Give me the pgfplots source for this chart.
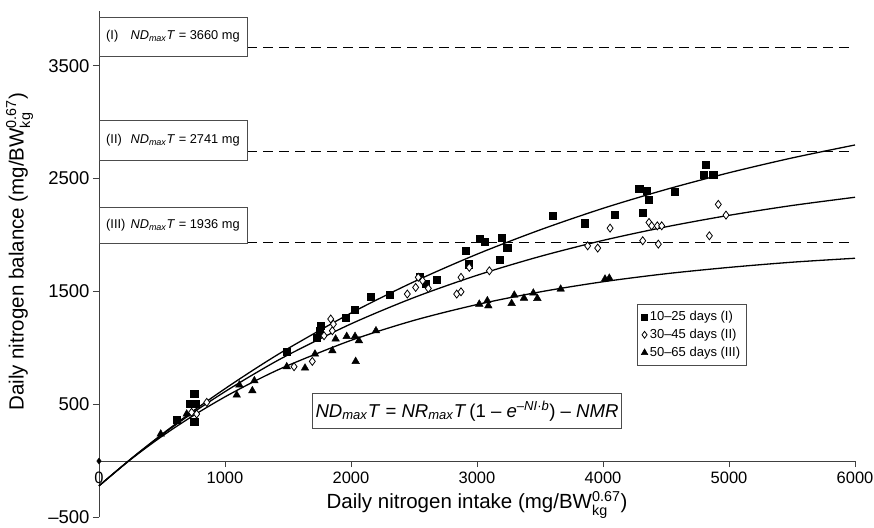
\documentclass[border=0pt]{standalone}
\usepackage{amsmath}
\usepackage{fontspec}
\setmainfont{Liberation Sans}
\usepackage{pgfplots}
\pgfplotsset{compat=1.18}

\newcommand{\BWkg}{BW$^{\text{0.67}}_{\text{kg}}$}
\newcommand{\NDT}{\textit{ND}\textsubscript{\textit{max}}\textit{T}}
\newcommand{\legfont}{\fontsize{13}{14}\selectfont}

% balance data, one table per age group
\pgfplotstableread{
x y
617 366
717 504
770 504
756 599
756 348
1490 971
1727 1094
1749 1153
1759 1198
1958 1271
2032 1339
2159 1457
2304 1472
2548 1634
2595 1572
2680 1605
2913 1861
2931 1743
3024 1971
3058 1944
3196 1980
3240 1885
3183 1779
3598 2171
3857 2106
4090 2184
4288 2413
4347 2393
4365 2313
4315 2200
4566 2387
4815 2622
4796 2534
4875 2534
}\groupI
\pgfplotstableread{
x y
735 431
775 416
855 519
1548 835
1693 882
1786 1109
1839 1257
1852 1153
1860 1212
2447 1478
2513 1537
2534 1626
2568 1596
2614 1528
2839 1478
2873 1498
2873 1626
2939 1714
3098 1684
3878 1905
3958 1885
4056 2062
4365 2112
4386 2082
4431 2082
4466 2082
4315 1950
4439 1920
4844 1994
4915 2272
4976 2177
}\groupII
\pgfplotstableread{
x y
490 239
696 416
1093 584
1114 673
1217 622
1233 711
1490 835
1635 823
1714 947
1852 976
1878 1080
1966 1103
2032 1103
2063 1065
2037 882
2198 1153
3018 1389
3082 1419
3090 1374
3275 1395
3296 1469
3373 1442
3447 1487
3479 1440
3664 1522
4016 1611
4050 1619
}\groupIII

\begin{document}
\begin{tikzpicture}
\begin{axis}[
  scale only axis, width=756pt, height=506pt,
  xmin=0, xmax=6000, ymin=-500, ymax=3980,
  axis lines=middle,
  axis line style={-, line width=0.9pt, black!75},
  hide obscured x ticks=false, hide obscured y ticks=false,
  xtick={0,1000,2000,3000,4000,5000,6000},
  xticklabels={0,1000,2000,3000,4000,5000,6000},
  ytick={-500,500,1500,2500,3500},
  yticklabels={–500,500,1500,2500,3500},
  minor tick num=0,
  tick align=outside, major tick length=6pt,
  tick style={line width=0.9pt, black!75},
  x tick label style={font=\fontsize{16.5}{16.5}\selectfont, yshift=-1pt},
  y tick label style={font=\fontsize{18.5}{18.5}\selectfont, inner ysep=0pt},
  xlabel={Daily nitrogen intake (mg/\BWkg)},
  ylabel={Daily nitrogen balance (mg/\BWkg)},
  xlabel style={at={(axis description cs:0.5,0.025)}, anchor=center,
    font=\fontsize{20.5}{20.5}\selectfont},
  ylabel style={at={(axis description cs:-0.105,0.525)}, anchor=center,
    rotate=90, font=\fontsize{20.5}{20.5}\selectfont},
  clip=false,
  legend style={at={(axis cs:4270,1389)}, anchor=north west,
    draw=black!70, line width=0.6pt, fill=white,
    row sep=3pt, inner xsep=4pt, inner ysep=5pt, cells={anchor=west}},
  legend cell align=left,
  legend image post style={every mark/.append style={scale=0.85}},
]
\coordinate (o) at (axis cs:0,0);

% fitted exponential curves
\addplot[black, line width=1.3pt, smooth, forget plot] coordinates {
(0,-220)(250,16)(500,237)(750,445)(1000,640)(1250,824)(1500,996)
(2000,1310)(2500,1587)(3000,1831)(3500,2046)(4000,2237)(4500,2404)
(5000,2552)(5500,2683)(6000,2798)};
\addplot[black, line width=1.3pt, smooth, forget plot] coordinates {
(0,-220)(250,15)(500,232)(750,431)(1000,614)(1250,783)(1500,939)
(2000,1214)(2500,1447)(3000,1644)(3500,1811)(4000,1953)(4500,2073)
(5000,2175)(5500,2262)(6000,2335)};
\addplot[black, line width=1.3pt, smooth, forget plot] coordinates {
(0,-220)(250,12)(500,219)(750,403)(1000,568)(1250,715)(1500,846)
(2000,1068)(2500,1245)(3000,1385)(3500,1497)(4000,1587)(4500,1658)
(5000,1714)(5500,1760)(6000,1795)};

% asymptotes
\addplot[black, line width=1pt, dash pattern=on 10pt off 6pt, forget plot]
  coordinates {(1175,3660)(6000,3660)};
\addplot[black, line width=1pt, dash pattern=on 10pt off 6pt, forget plot]
  coordinates {(1175,2741)(6000,2741)};
\addplot[black, line width=1pt, dash pattern=on 10pt off 6pt, forget plot]
  coordinates {(1175,1936)(6000,1936)};

\addplot[only marks, mark=diamond*, mark size=3pt, black, forget plot]
  coordinates {(0,0)};

\addplot[only marks, mark=square*, mark size=3.6pt, black] table {\groupI};
\addlegendentry{\legfont 10–25 days (I)}
\addplot[only marks, mark=diamond*, mark size=4pt, black,
  mark options={fill=white, line width=0.8pt}] table {\groupII};
\addlegendentry{\legfont 30–45 days (II)}
\addplot[only marks, mark=triangle*, mark size=4.4pt, black] table {\groupIII};
\addlegendentry{\legfont 50–65 days (III)}

% asymptote labels
\draw[black!70, line width=0.8pt, fill=white]
  (axis cs:0,3929) rectangle (axis cs:1175,3584);
\node[font=\fontsize{12.8}{12.8}\selectfont] at (axis cs:587,3757)
  {\makebox[1.9em][l]{(I)}\NDT\ = 3660 mg};
\draw[black!70, line width=0.8pt, fill=white]
  (axis cs:0,3018) rectangle (axis cs:1175,2664);
\node[font=\fontsize{12.8}{12.8}\selectfont] at (axis cs:587,2841)
  {\makebox[1.9em][l]{(II)}\NDT\ = 2741 mg};
\draw[black!70, line width=0.8pt, fill=white]
  (axis cs:0,2248) rectangle (axis cs:1175,1929);
\node[font=\fontsize{12.8}{12.8}\selectfont] at (axis cs:587,2088)
  {\makebox[1.9em][l]{(III)}\NDT\ = 1936 mg};

% model equation
\node[draw=black!70, line width=0.8pt, fill=white, inner xsep=3pt, inner ysep=8pt,
  font=\fontsize{18.6}{18.6}\selectfont] at (axis cs:2921,442)
  {\NDT\ = \textit{NR}\textsubscript{\textit{max}}\textit{T}\,(1 – \textit{e}\textsuperscript{–\textit{NI}·\textit{b}}) – \textit{NMR}};
\end{axis}
\pgfresetboundingbox
\path[use as bounding box] ([shift={(-99pt,461pt)}]o) rectangle ([shift={(775pt,-66pt)}]o);
\end{tikzpicture}
\end{document}
